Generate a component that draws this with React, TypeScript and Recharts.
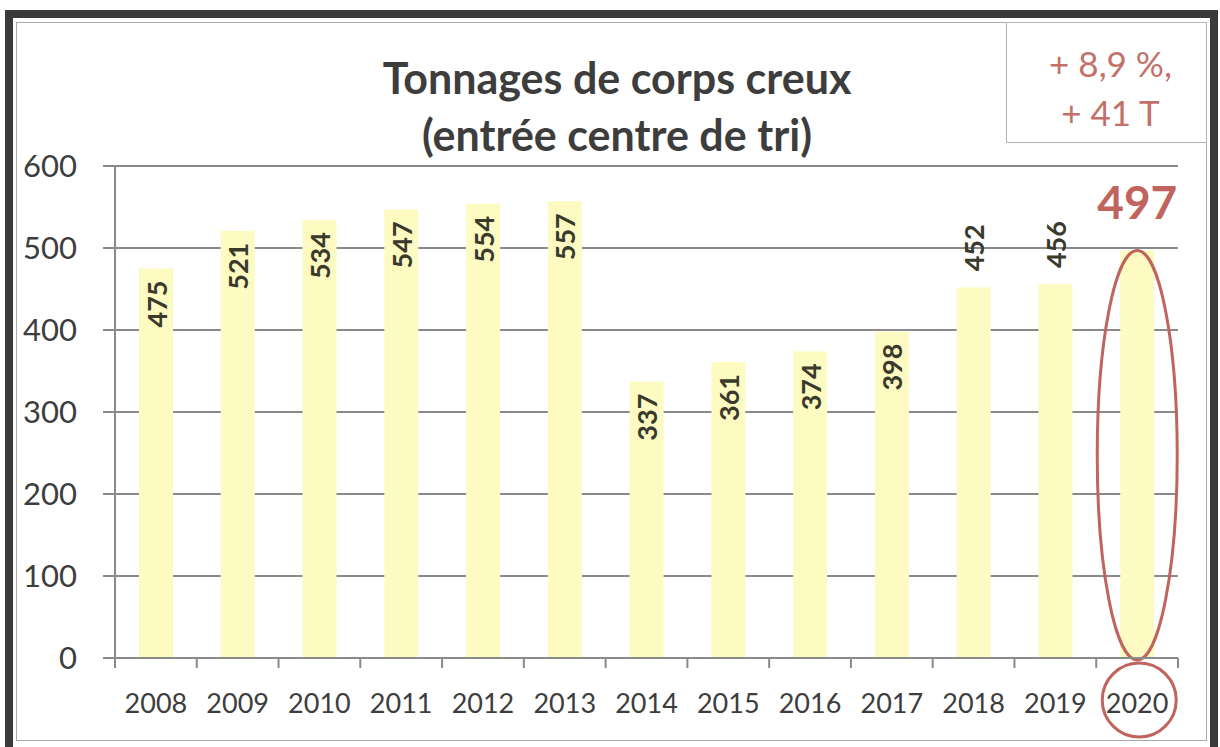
import { Bar, BarChart, CartesianGrid, LabelList, XAxis, YAxis } from "recharts";

const years = ["2008", "2009", "2010", "2011", "2012", "2013", "2014", "2015", "2016", "2017", "2018", "2019", "2020"];
const tonnages = [475, 521, 534, 547, 554, 557, 337, 361, 374, 398, 452, 456, 497];
const yTicks = [0, 100, 200, 300, 400, 500, 600];
const labelAboveYears = ["2018", "2019"];
const highlightYear = "2020";
const titleLines = ["Tonnages de corps creux", "(entrée centre de tri)"];
const noteLines = ["+ 8,9 %,", "+ 41 T"];

const data = years.map((year, i) => ({ year, value: tonnages[i] }));

const W = 1220;
const H = 747;
const FONT = "Lato, 'Open Sans', sans-serif";
const BAR = "#fdfbc2";
const RED = "#c0645e";
const AXIS = "#8a8a8a";
const TEXT = "#3d3d3d";

function BarShape(props: any) {
  const { x, y, width, height, payload } = props;
  const cx = x + width / 2;
  const isHighlight = payload && payload.year === highlightYear;
  return (
    <g>
      <rect x={x} y={y} width={width} height={height} fill={BAR} />
      {isHighlight && (
        <g fill="none" stroke={RED} strokeWidth={3}>
          <ellipse cx={cx} cy={y + (height + 2) / 2} rx={40} ry={(height + 2) / 2} />
          <circle cx={cx + 2} cy={y + height + 42} r={37} />
        </g>
      )}
    </g>
  );
}

function ValueLabel(props: any) {
  const { x, y, width, value, index } = props;
  const year = years[index];
  const cx = x + width / 2;
  if (year === highlightYear) {
    return (
      <text x={cx} y={y - 31} textAnchor="middle" fontSize={46} fontWeight={700} fill={RED} fontFamily={FONT}>
        {value}
      </text>
    );
  }
  const above = labelAboveYears.includes(year);
  return (
    <text
      transform={`translate(${cx},${above ? y - 16 : y + 12}) rotate(-90)`}
      textAnchor={above ? "start" : "end"}
      dominantBaseline="central"
      fontSize={27}
      fontWeight={700}
      fill="#3a3a2c"
      fontFamily={FONT}
    >
      {value}
    </text>
  );
}

function YearTick(props: any) {
  const { x, y, payload, index } = props;
  const half = payload && payload.offset ? payload.offset : (1178 - 115) / years.length / 2;
  const last = index === years.length - 1;
  return (
    <g>
      <line x1={x - half} y1={y - 10} x2={x - half} y2={y} stroke={AXIS} strokeWidth={2} />
      {last && <line x1={x + half} y1={y - 10} x2={x + half} y2={y} stroke={AXIS} strokeWidth={2} />}
      <text x={x} y={y + 34} textAnchor="middle" dominantBaseline="central" fontSize={27} fill={TEXT} fontFamily={FONT}>
        {payload.value}
      </text>
    </g>
  );
}

export default function App() {
  return (
    <div style={{ position: "absolute", left: 0, top: 0, width: W, height: H, background: "#fff", overflow: "hidden", fontFamily: FONT }}>
      {/* scanned frame */}
      <div style={{ position: "absolute", left: 5, top: 10, width: 1213, height: 745, boxSizing: "border-box", border: "8px solid #3a3a3a" }} />
      <div style={{ position: "absolute", left: 16, top: 22, width: 1191, height: 719, boxSizing: "border-box", border: "1px solid #aaa" }} />
      {/* note box */}
      <div
        style={{
          position: "absolute",
          left: 1006,
          top: 22,
          width: 201,
          height: 121,
          boxSizing: "border-box",
          border: "1px solid #b5b5b5",
          color: "#c27068",
          fontSize: 35,
          lineHeight: "49px",
          textAlign: "center",
          whiteSpace: "nowrap",
          paddingTop: 16,
          paddingLeft: 8,
        }}
      >
        {noteLines.map((l) => (
          <div key={l}>{l}</div>
        ))}
      </div>
      {/* title */}
      <div
        style={{
          position: "absolute",
          left: 317,
          top: 49,
          width: 600,
          textAlign: "center",
          fontWeight: 700,
          fontSize: 43,
          lineHeight: "57px",
          color: TEXT,
          whiteSpace: "nowrap",
        }}
      >
        {titleLines.map((l) => (
          <div key={l}>{l}</div>
        ))}
      </div>
      <div style={{ position: "absolute", left: 0, top: 0 }}>
        <BarChart width={W} height={H} data={data} margin={{ top: 166, right: 42, left: 0, bottom: 0 }} barSize={34}>
          <CartesianGrid horizontal vertical={false} stroke={AXIS} strokeWidth={2} />
          <XAxis
            dataKey="year"
            height={89}
            axisLine={{ stroke: AXIS, strokeWidth: 2 }}
            tickLine={false}
            tickSize={10}
            tickMargin={0}
            interval={0}
            tick={<YearTick />}
          />
          <YAxis
            width={115}
            domain={[0, 600]}
            ticks={yTicks}
            axisLine={{ stroke: AXIS, strokeWidth: 2 }}
            tickLine={{ stroke: AXIS, strokeWidth: 2 }}
            tickSize={12}
            tickMargin={26}
            tick={{ fontSize: 31, fill: TEXT, fontFamily: FONT }}
          />
          <Bar dataKey="value" shape={<BarShape />} isAnimationActive={false}>
            <LabelList dataKey="value" content={<ValueLabel />} />
          </Bar>
        </BarChart>
      </div>
    </div>
  );
}
